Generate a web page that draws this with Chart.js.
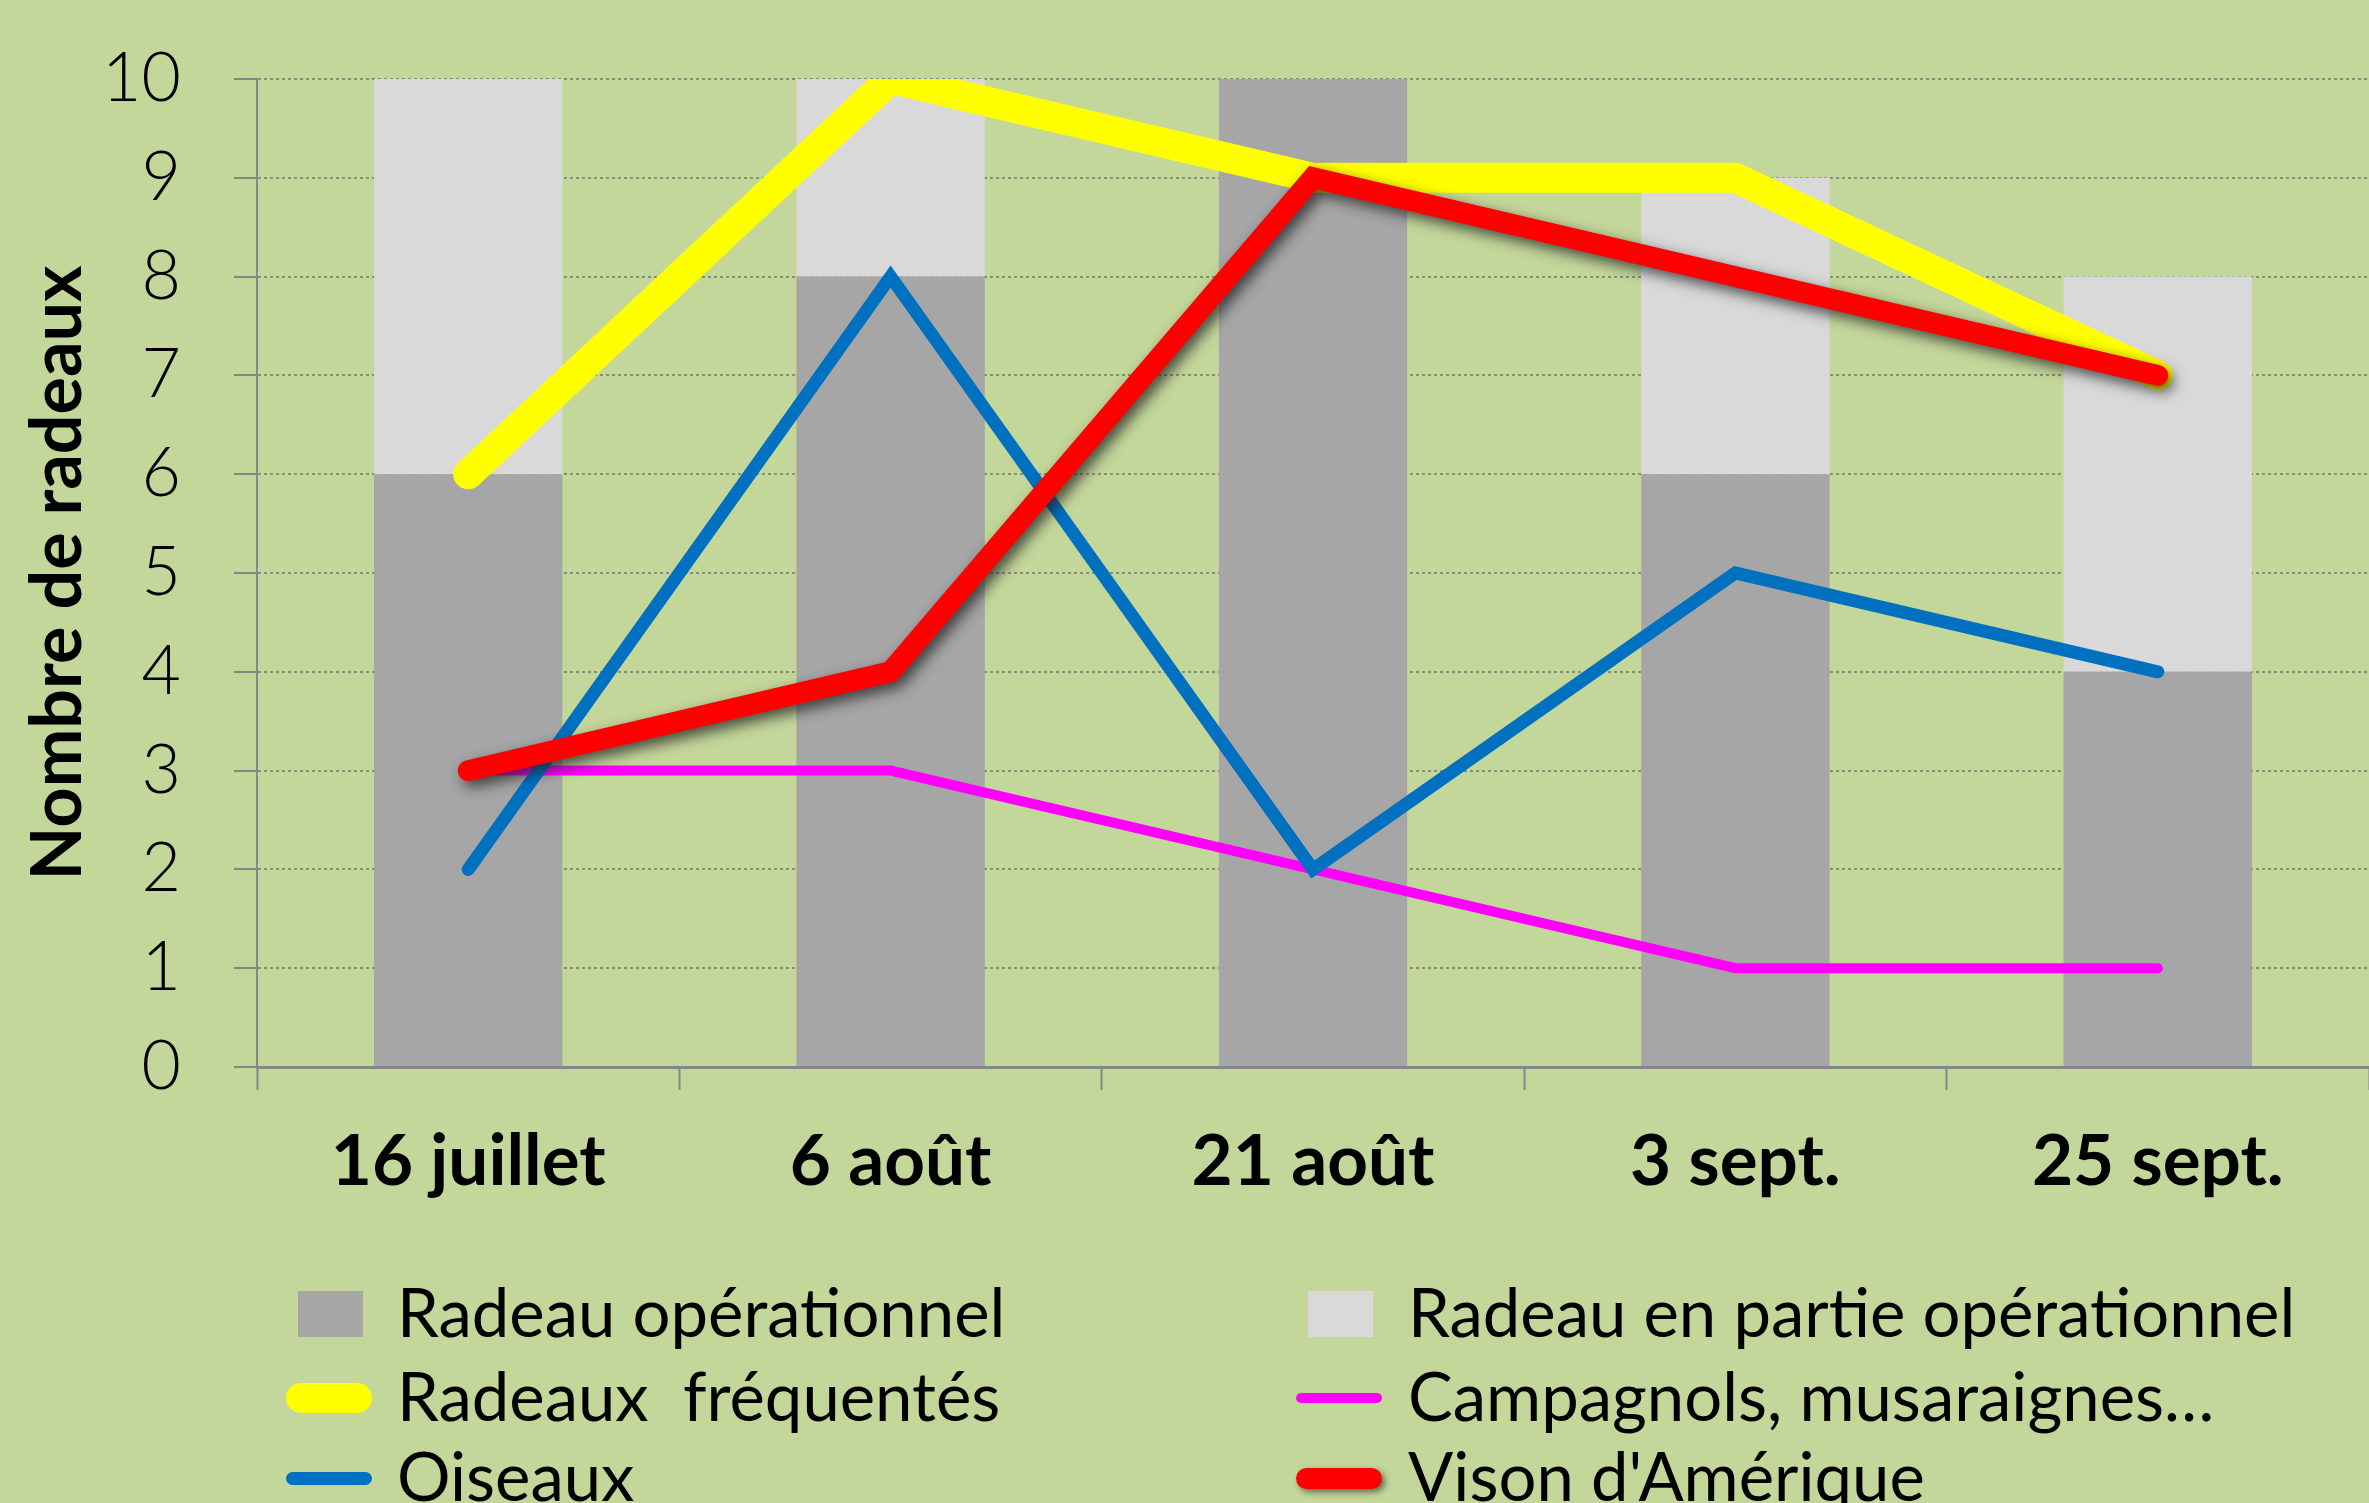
<!DOCTYPE html>
<html lang="fr">
<head>
<meta charset="utf-8">
<title>Nombre de radeaux</title>
<script src="https://cdn.jsdelivr.net/npm/chart.js@4.4.7/dist/chart.umd.min.js"></script>
<style>
  html, body { margin: 0; padding: 0; background: #c4d79b; overflow: hidden; }
  #wrap { position: relative; width: 2369px; height: 1503px; background: #c4d79b; }
  #chart { position: absolute; left: 0; top: 0; }
  .legend-symbol { position: absolute; }
  .legend-text { position: absolute; font: 67px Lato, sans-serif; line-height: 67px; white-space: pre; color: #000; }
</style>
</head>
<body>
<div id="wrap">
  <canvas id="chart" width="2369" height="1503"></canvas>
  <div id="legend"></div>
</div>
<script>
const categories = ["16 juillet", "6 août", "21 août", "3 sept.", "25 sept."];
const operationnel = [6, 8, 10, 6, 4];
const partiel = [4, 2, 0, 3, 4];
const frequentes = [6, 10, 9, 9, 7];
const campagnols = [3, 3, 2, 1, 1];
const oiseaux = [2, 8, 2, 5, 4];
const vison = [3, 4, 9, 8, 7];
const yMin = 0;
const yMax = 10;
const yStep = 1;

const seriesLabels = [
  "Radeau opérationnel",
  "Radeau en partie opérationnel",
  "Radeaux  fréquentés",
  "Campagnols, musaraignes…",
  "Oiseaux",
  "Vison d'Amérique",
];

const textFont = "Lato, 'Open Sans', sans-serif";
const axisColor = "#868686";

function barDataset(label, data, color) {
  return {
    type: "bar",
    label: label,
    data: data,
    backgroundColor: color,
    borderWidth: 0,
    stack: "radeaux",
    order: 10,
    barPercentage: 0.446,
    categoryPercentage: 1,
  };
}

function lineDataset(label, data, color, width, order, extra) {
  return Object.assign({
    type: "line",
    label: label,
    data: data,
    borderColor: color,
    backgroundColor: color,
    borderWidth: width,
    borderCapStyle: "round",
    borderJoinStyle: "miter",
    pointRadius: 0,
    pointHoverRadius: 0,
    tension: 0,
    fill: false,
    stack: "line-" + order,
    order: order,
  }, extra || {});
}

const datasets = [
  barDataset(seriesLabels[0], operationnel, "#a6a6a6"),
  barDataset(seriesLabels[1], partiel, "#d9d9d9"),
  lineDataset(seriesLabels[2], frequentes, "#ffff00", 30, 2, { clip: 0 }),
  lineDataset(seriesLabels[3], campagnols, "#ff00ff", 10, 4),
  lineDataset(seriesLabels[4], oiseaux, "#0070c0", 13, 3),
  lineDataset(seriesLabels[5], vison, "#ff0000", 21, 1),
];

// ombre portée sous la courbe du vison
const shadowPlugin = {
  id: "visonShadow",
  beforeDatasetDraw(chart, args) {
    if (chart.data.datasets[args.index].label !== seriesLabels[5]) {
      return;
    }
    const ctx = chart.ctx;
    ctx.save();
    ctx.shadowColor = "rgba(30, 30, 30, 0.75)";
    ctx.shadowBlur = 14;
    ctx.shadowOffsetX = 5;
    ctx.shadowOffsetY = 6;
  },
  afterDatasetDraw(chart, args) {
    if (chart.data.datasets[args.index].label !== seriesLabels[5]) {
      return;
    }
    chart.ctx.restore();
  },
};

const chart = new Chart(document.querySelector("#chart"), {
  data: {
    labels: categories,
    datasets: datasets,
  },
  plugins: [shadowPlugin],
  options: {
    responsive: false,
    animation: false,
    events: [],
    layout: {
      padding: { top: 79, right: 0, bottom: 263, left: 0 },
    },
    plugins: {
      legend: { display: false },
      tooltip: { enabled: false },
    },
    scales: {
      x: {
        stacked: true,
        offset: true,
        grid: {
          offset: true,
          drawOnChartArea: false,
          drawTicks: true,
          tickLength: 23,
          tickColor: axisColor,
          tickWidth: 2,
        },
        border: { color: axisColor, width: 3 },
        ticks: {
          color: "#000",
          padding: 30,
          maxRotation: 0,
          font: { family: textFont, size: 71, weight: "bold" },
        },
        afterFit(scale) {
          scale.height = 173;
          scale.paddingLeft = 0;
          scale.paddingRight = 0;
        },
      },
      y: {
        stacked: true,
        min: yMin,
        max: yMax,
        ticks: {
          stepSize: yStep,
          color: "#000",
          padding: 53,
          font: { family: textFont, size: 68, weight: 300 },
        },
        grid: {
          color: "rgba(110, 110, 110, 0.7)",
          lineWidth: 2,
          tickLength: 23,
          tickColor: axisColor,
          tickWidth: 2,
          tickBorderDash: [],
        },
        border: { color: axisColor, width: 2, dash: [3, 3] },
        title: {
          display: true,
          text: "Nombre de radeaux",
          color: "#000",
          padding: { top: 16, bottom: 0 },
          font: { family: textFont, size: 70, weight: "bold" },
        },
        afterFit(scale) {
          scale.width = 257;
          scale.paddingTop = 0;
          scale.paddingBottom = 0;
        },
      },
    },
  },
});

// légende sur deux colonnes, dans l'ordre des séries
const legendColumns = [
  { symbolX: 298, textX: 397 },
  { symbolX: 1308, textX: 1408 },
];
const legendRows = [1314, 1398, 1478];
const legend = document.querySelector("#legend");

datasets.forEach((dataset, index) => {
  const column = legendColumns[index % 2];
  const centerY = legendRows[Math.floor(index / 2)];
  const symbol = document.createElement("div");
  symbol.className = "legend-symbol";
  if (dataset.type === "bar") {
    symbol.style.left = column.symbolX + "px";
    symbol.style.top = centerY - 23 + "px";
    symbol.style.width = "65px";
    symbol.style.height = "46px";
    symbol.style.background = dataset.backgroundColor;
  } else {
    const h = dataset.borderWidth;
    symbol.style.left = column.symbolX - 12 + "px";
    symbol.style.top = centerY - h / 2 + "px";
    symbol.style.width = "86px";
    symbol.style.height = h + "px";
    symbol.style.borderRadius = h / 2 + "px";
    symbol.style.background = dataset.borderColor;
    if (dataset.label === seriesLabels[5]) {
      symbol.style.boxShadow = "3px 3px 6px rgba(30, 30, 30, 0.6)";
    }
  }
  legend.appendChild(symbol);

  const text = document.createElement("div");
  text.className = "legend-text";
  text.style.left = column.textX + "px";
  text.style.top = centerY - 36 + "px";
  text.textContent = dataset.label;
  legend.appendChild(text);
});
</script>
</body>
</html>
